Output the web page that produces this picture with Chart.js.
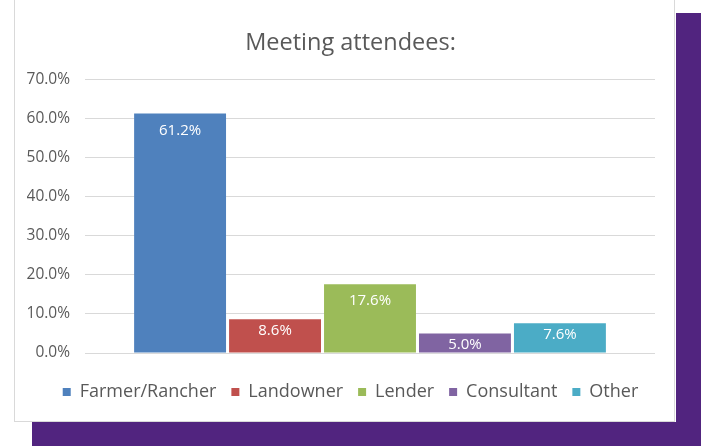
<!DOCTYPE html>
<html>
<head>
<meta charset="utf-8">
<script src="https://cdn.jsdelivr.net/npm/chart.js@4"></script>
<style>
  body { margin: 0; background: #fff; width: 703px; height: 446px; overflow: hidden; position: relative; }
  .purple { position: absolute; background: #51247f; }
  #panel { position: absolute; left: 14px; top: 0; width: 659px; height: 421px; background: #fff;
           border: 1px solid #d9d9d9; border-top: none; }
  #wrap { position: absolute; left: 0; top: 0; width: 659px; height: 421px; }
</style>
</head>
<body>
<div class="purple" style="left:676px; top:13px; width:25px; height:433px;"></div>
<div class="purple" style="left:32px; top:422px; width:669px; height:24px;"></div>
<div id="panel"><div id="wrap"><canvas id="attendeesChart"></canvas></div></div>
<script>
const categories = ["Farmer/Rancher", "Landowner", "Lender", "Consultant", "Other"];
const shares = [61.2, 8.6, 17.6, 5.0, 7.6];
const colours = ["#4f81bd", "#c0504d", "#9bbb59", "#8064a2", "#4bacc6"];
const yTicks = [0, 10, 20, 30, 40, 50, 60, 70];

const textGrey = "#595959";
const fontFamily = "'Open Sans', sans-serif";

// white value labels just inside the top of each bar
const barLabels = {
  id: "barLabels",
  afterDatasetsDraw(chart) {
    const ctx = chart.ctx;
    ctx.save();
    ctx.fillStyle = "#ffffff";
    ctx.font = "15px " + fontFamily;
    ctx.textAlign = "center";
    ctx.textBaseline = "middle";
    chart.data.datasets.forEach((ds, i) => {
      const bar = chart.getDatasetMeta(i).data[0];
      const height = bar.base - bar.y;
      const offset = height > 40 ? 17 : 11;
      ctx.fillText(ds.data[0].toFixed(1) + "%", bar.x, bar.y + offset);
    });
    ctx.restore();
  },
};

const datasets = categories.map((name, i) => ({
  label: name,
  data: [shares[i]],
  backgroundColor: colours[i],
  borderWidth: 0,
  categoryPercentage: 0.833,
  barPercentage: 0.968,
}));

new Chart(document.querySelector("#attendeesChart").getContext("2d"), {
  type: "bar",
  data: { labels: [""], datasets: datasets },
  plugins: [barLabels],
  options: {
    responsive: true,
    maintainAspectRatio: false,
    animation: false,
    layout: { padding: { left: 12, right: 0, top: 0, bottom: 10 } },
    plugins: {
      tooltip: { enabled: false },
      title: {
        display: true,
        text: "Meeting attendees:",
        color: textGrey,
        font: { family: fontFamily, size: 23.5, weight: "normal" },
        padding: { top: 29, bottom: 22 },
      },
      legend: {
        position: "bottom",
        labels: {
          color: textGrey,
          font: { family: fontFamily, size: 18 },
          boxWidth: 8,
          boxHeight: 8,
          padding: 15,
        },
      },
    },
    scales: {
      x: {
        grid: { display: false },
        border: { display: false },
        ticks: { display: false },
        afterFit(scale) { scale.height = 15; },
      },
      y: {
        min: 0,
        max: 70,
        afterBuildTicks(scale) { scale.ticks = yTicks.map(v => ({ value: v })); },
        afterFit(scale) { scale.width = 58; },
        grid: { color: "#d9d9d9", drawTicks: false },
        border: { display: false },
        ticks: {
          color: textGrey,
          padding: 15,
          font: { family: fontFamily, size: 15.5 },
          callback: v => v.toFixed(1) + "%",
        },
      },
      // empty axis on the right, only to keep the plot clear of the panel edge
      yRight: {
        position: "right",
        grid: { display: false },
        border: { display: false },
        ticks: { display: false },
        afterFit(scale) { scale.width = 19; },
      },
    },
  },
});
</script>
</body>
</html>
